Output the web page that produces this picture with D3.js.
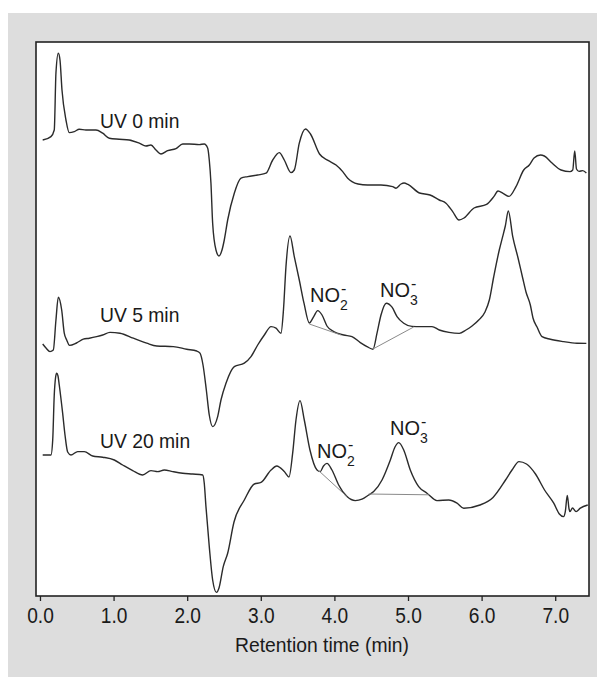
<!DOCTYPE html>
<html>
<head>
<meta charset="utf-8">
<script src="https://cdn.jsdelivr.net/npm/d3@7"></script>
<style>
  body { margin: 0; background: #fff; }
  text { font-family: "Liberation Sans", Arial, sans-serif; fill: #1a1a1a; }
</style>
</head>
<body>
<svg id="grafico" width="597" height="677"></svg>
<script>
// ejes: tiempo de retención (min) y señal del detector (unidades arbitrarias)
const ticksX = [0, 1, 2, 3, 4, 5, 6, 7];
const tituloX = "Retention time (min)";

// cromatograma tras 0 min de UV  [tiempo, señal]
const uv0 = [
  [0.037,228],[0.149,229.7],[0.194,233],[0.217,261.5],[0.249,271.4],[0.272,268],[0.299,253],
  [0.353,238],[0.398,231.7],[0.466,232.2],[0.534,233.4],[0.625,233],[0.761,233],[0.852,231.4],
  [0.942,228.9],[1.077,228.4],[1.213,228],[1.349,226.4],[1.440,225],[1.508,225.5],[1.576,223],
  [1.644,221],[1.735,222.7],[1.848,223.7],[1.939,226],[2.029,226],[2.164,225.7],[2.232,226],
  [2.279,223.9],[2.300,218],[2.323,206.4],[2.346,186.4],[2.391,173],[2.432,170],[2.473,173],
  [2.504,178],[2.550,188],[2.640,201.4],[2.731,208.9],[2.822,209.7],[2.958,210.5],[3.071,211.4],
  [3.162,218],[3.251,221.7],[3.319,218],[3.410,211.7],[3.455,213],[3.523,226.4],[3.607,233.5],
  [3.675,231],[3.798,221],[3.913,217.8],[4.022,215.5],[4.113,212.2],[4.181,208.9],[4.239,207.2],
  [4.321,206],[4.450,205.5],[4.633,205.5],[4.792,204.7],[4.837,203.9],[4.905,206],[4.946,206.5],
  [5.000,205.8],[5.156,201.5],[5.299,200.5],[5.425,198],[5.516,196.4],[5.607,192.2],[5.693,188],
  [5.761,189],[5.897,194],[6.067,195.8],[6.168,199.8],[6.223,202.5],[6.291,201.3],[6.372,199.8],
  [6.467,204.7],[6.572,213],[6.648,215.5],[6.712,219],[6.800,220.5],[6.852,220],[6.957,216.5],
  [7.079,213],[7.201,212.2],[7.238,213],[7.265,222.5],[7.289,213.5],[7.323,212.3],[7.374,212.7],
  [7.423,211.5]
];

// cromatograma tras 5 min de UV
const uv5 = [
  [0.037,126],[0.082,124],[0.136,122.2],[0.181,123],[0.217,138],[0.249,149.4],[0.295,143],
  [0.330,131.4],[0.363,128],[0.401,125.3],[0.496,126.5],[0.588,128.4],[0.670,128.9],[0.770,129.7],
  [0.852,130.5],[0.951,131.8],[1.087,131.4],[1.268,128.9],[1.450,126.4],[1.586,125],[1.811,124.7],
  [1.993,123.4],[2.129,122.5],[2.174,121.4],[2.215,115.5],[2.260,103],[2.300,90.5],[2.346,84.7],
  [2.414,89.7],[2.459,98],[2.527,106.4],[2.640,114.7],[2.776,116.4],[2.867,119.7],[2.958,125.5],
  [3.048,130.5],[3.139,134.7],[3.207,133.9],[3.274,131.4],[3.308,143],[3.342,164.7],[3.397,180],
  [3.455,169.7],[3.523,158],[3.587,146.4],[3.659,136.5],[3.719,139.7],[3.773,142.7],[3.832,140.5],
  [3.899,135],[3.990,132.2],[4.126,130.5],[4.239,129.7],[4.352,126.7],[4.443,124.7],[4.524,123.4],
  [4.579,131.4],[4.633,140.5],[4.705,146.4],[4.783,144.4],[4.851,139.7],[4.942,136.4],[5.054,134.8],
  [5.167,134.7],[5.326,134.7],[5.425,133],[5.557,131.8],[5.697,131.3],[5.788,133],[5.870,135],
  [5.961,138],[6.046,142],[6.105,148],[6.164,159.5],[6.240,173],[6.286,179.7],[6.322,185],
  [6.363,192.5],[6.423,179.7],[6.495,169],[6.558,159],[6.603,152],[6.662,145.5],[6.698,139],
  [6.753,134.5],[6.821,129.7],[6.934,128.4],[7.115,127.2],[7.296,126.4],[7.423,126.3]
];

// cromatograma tras 20 min de UV
const uv20 = [
  [0.037,70.5],[0.095,70.5],[0.149,70.5],[0.173,78],[0.194,100.5],[0.211,109],[0.227,111.4],
  [0.245,110],[0.262,105.5],[0.308,91.4],[0.340,80.5],[0.376,72],[0.421,70.5],[0.512,72.2],
  [0.602,72.2],[0.716,70],[0.852,69.4],[1.010,68],[1.124,65.5],[1.260,62.7],[1.395,60.5],
  [1.508,62.7],[1.599,62.2],[1.689,63],[1.803,62.2],[1.939,61.4],[2.075,61],[2.211,60.5],
  [2.232,56.4],[2.255,44.7],[2.300,24.7],[2.346,8],[2.398,1.8],[2.432,4],[2.490,14.7],
  [2.550,21.4],[2.636,37],[2.776,48],[2.912,56],[3.003,56.8],[3.139,63],[3.216,65],[3.319,62.2],
  [3.383,59.5],[3.433,71.4],[3.478,88],[3.533,97.7],[3.591,88],[3.668,73],[3.764,63],[3.808,62.2],
  [3.852,65],[3.899,66.3],[3.967,63],[4.058,55.5],[4.171,49.7],[4.284,47.7],[4.375,48.4],
  [4.466,50.5],[4.534,52.2],[4.647,58],[4.760,68],[4.823,74.5],[4.874,76.7],[4.942,73],
  [5.031,63],[5.145,54.7],[5.258,51.4],[5.394,47.7],[5.553,48],[5.666,46.4],[5.757,43.9],
  [5.978,45.5],[6.155,49.3],[6.325,58],[6.413,63],[6.508,67.2],[6.610,66],[6.732,61],
  [6.855,53],[6.980,46.4],[7.056,41],[7.113,39.7],[7.137,42.2],[7.164,50.3],[7.188,43.5],
  [7.201,42.2],[7.235,44],[7.283,42.2],[7.341,43.9],[7.442,45.5]
];

// líneas base de integración de los picos  [t1, s1, t2, s2]
const lineasBase = [
  [3.659,136, 4.090,130.5],
  [4.524,123.5, 5.077,134.5],
  [3.777,63, 4.171,49.7],
  [4.466,51, 5.281,50.6]
];

// etiquetas de las trazas  [texto, t, señal]
const etiquetasUV = [
  ["UV 0 min", 0.815, 234],
  ["UV 5 min", 0.815, 137],
  ["UV 20 min", 0.815, 74]
];

// etiquetas de iones  [base, subíndice, t, señal]
const etiquetasIon = [
  ["NO", "2", 3.668, 147],
  ["NO", "3", 4.620, 149.5],
  ["NO", "2", 3.764, 69],
  ["NO", "3", 4.755, 80.5]
];

/* ################ AREA DE DIBUJO ################ */
const svg = d3.select("#grafico");
const margin = { top: 42, left: 36, right: 8, bottom: 81 };
const width = 597, height = 677;

// estrechar el texto (la fuente original es algo condensada)
function condensar(sel, factor) {
  sel.each(function () {
    const w = this.getComputedTextLength();
    d3.select(this).attr("textLength", w * factor).attr("lengthAdjust", "spacingAndGlyphs");
  });
}

// fondo gris del recuadro
svg.append("rect")
  .attr("x", 8).attr("y", 13)
  .attr("width", width - 8).attr("height", height - 13)
  .attr("fill", "#dddddd");

// escalas
const x = d3.scaleLinear().domain([-0.054, 7.459]).range([margin.left, width - margin.right]);
const y = d3.scaleLinear().domain([0, 277]).range([height - margin.bottom, margin.top]);

// area blanca del grafico
svg.append("rect")
  .attr("x", margin.left).attr("y", margin.top)
  .attr("width", width - margin.right - margin.left)
  .attr("height", height - margin.bottom - margin.top)
  .attr("fill", "#fff")
  .attr("stroke", "#222")
  .attr("stroke-width", 1.6);

/* ################ EJE X ################ */
const ejeX = d3.axisBottom(x)
  .tickValues(ticksX)
  .tickFormat(d3.format(".1f"))
  .tickSize(5)
  .tickPadding(6);

const gX = svg.append("g")
  .attr("transform", `translate(0, ${height - margin.bottom})`)
  .call(ejeX);
gX.select(".domain").remove();
gX.selectAll(".tick line").attr("stroke", "#222").attr("stroke-width", 1.3);
gX.selectAll(".tick text")
  .style("font-size", "22px")
  .style("font-family", "'Liberation Sans', Arial, sans-serif")
  .attr("fill", "#1a1a1a")
  .call(condensar, 0.87);

svg.append("text")
  .attr("x", 322)
  .attr("y", 652)
  .attr("text-anchor", "middle")
  .style("font-size", "21px")
  .text(tituloX)
  .call(condensar, 0.92);

/* ################ TRAZAS ################ */
const linea = d3.line()
  .x(d => x(d[0]))
  .y(d => y(d[1]))
  .curve(d3.curveMonotoneX);

[uv0, uv5, uv20].forEach(serie => {
  svg.append("path")
    .datum(serie)
    .attr("d", linea)
    .attr("fill", "none")
    .attr("stroke", "#2b2b2b")
    .attr("stroke-width", 1.4)
    .attr("stroke-linejoin", "round");
});

// lineas base
svg.selectAll(".base")
  .data(lineasBase)
  .enter()
  .append("line")
  .attr("class", "base")
  .attr("x1", d => x(d[0])).attr("y1", d => y(d[1]))
  .attr("x2", d => x(d[2])).attr("y2", d => y(d[3]))
  .attr("stroke", "#8a8a8a")
  .attr("stroke-width", 1);

/* ################ ETIQUETAS ################ */
svg.selectAll(".etqUV")
  .data(etiquetasUV)
  .enter()
  .append("text")
  .attr("class", "etqUV")
  .attr("x", d => x(d[1]))
  .attr("y", d => y(d[2]))
  .style("font-size", "21px")
  .text(d => d[0])
  .call(condensar, 0.92);

// NO2- / NO3-: un solo texto con subíndice y superíndice apilados
etiquetasIon.forEach(d => {
  const t = svg.append("text")
    .attr("x", x(d[2])).attr("y", y(d[3]))
    .style("font-size", "20px");
  t.append("tspan").text(d[0]);
  const sub = t.append("tspan")
    .attr("dy", 8)
    .style("font-size", "14px")
    .text(d[1]);
  const wSub = sub.node().getComputedTextLength();
  t.append("tspan")
    .attr("dx", -wSub + 1)
    .attr("dy", -16)
    .style("font-size", "16px")
    .text("-");
});
</script>
</body>
</html>
